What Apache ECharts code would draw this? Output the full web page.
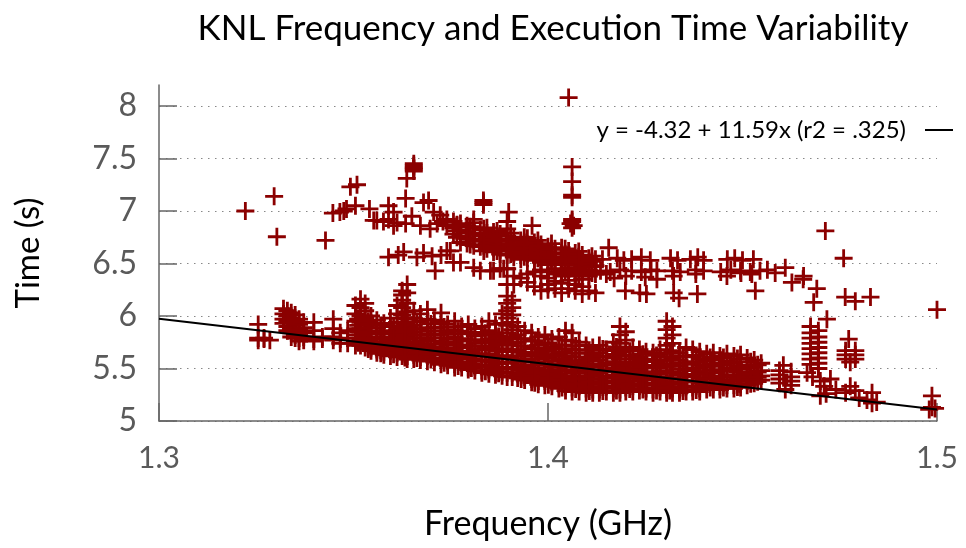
<!DOCTYPE html>
<html>
<head>
<meta charset="utf-8">
<script src="https://cdn.jsdelivr.net/npm/echarts@6/dist/echarts.min.js"></script>
<style>
html,body{margin:0;padding:0;background:#fff;}
#chart{width:966px;height:548px;}
</style>
</head>
<body>
<div id="chart"></div>
<script>
// ---------------- DATA ----------------
const titleText = 'KNL Frequency and Execution Time Variability';
const xName = 'Frequency (GHz)';
const yName = 'Time (s)';
const xTicks = [1.3, 1.4, 1.5];
const yTicks = [5, 5.5, 6, 6.5, 7, 7.5, 8];
const fitName = 'y = -4.32 + 11.59x (r2 = .325)';
const fitIntercept = 11.59;
const fitSlope = -4.32;

// dense lower band: [frequency, time, time, ...]
const lowerBandColumns = [
  [1.3255, 5.92, 5.79, 5.77],
  [1.3270, 5.78, 5.79],
  [1.3285, 5.77],
  [1.3320, 6.07, 6.02, 5.97, 5.93],
  [1.3330, 6.05, 6.00, 5.95, 5.90, 5.86],
  [1.3340, 6.03, 5.98, 5.93, 5.88, 5.84, 5.80],
  [1.3350, 6.01, 5.96, 5.91, 5.86, 5.82, 5.79],
  [1.3360, 5.97, 5.92, 5.87, 5.83, 5.79, 5.76],
  [1.3372, 5.94, 5.89, 5.84, 5.80, 5.77],
  [1.3398, 5.94, 5.86, 5.78, 5.76],
  [1.3420, 5.80, 5.78],
  [1.3448, 5.97, 5.88, 5.80, 5.77],
  [1.3466, 5.84, 5.78, 5.74],
  [1.3485, 5.86, 5.79, 5.74],
  [1.3505, 6.10, 6.02, 5.95, 5.88, 5.82, 5.76, 5.72],
  [1.3518, 6.16, 6.08, 6.00, 5.94, 5.88, 5.82, 5.77, 5.72],
  [1.3530, 6.12, 6.05, 5.98, 5.91, 5.85, 5.79, 5.74, 5.70],
  [1.3545, 6.00, 5.93, 5.86, 5.80, 5.75, 5.70, 5.67],
  [1.3560, 5.96, 5.89, 5.83, 5.78, 5.73, 5.68, 5.65],
  [1.3578, 5.93, 5.86, 5.80, 5.75, 5.70, 5.66, 5.63],
  [1.3595, 5.98, 5.90, 5.83, 5.77, 5.72, 5.67, 5.62],
  [1.3612, 6.10, 6.02, 5.94, 5.87, 5.81, 5.75, 5.70, 5.65, 5.61],
  [1.3625, 6.24, 6.20, 6.15, 6.08, 6.01, 5.94, 5.88, 5.82, 5.76, 5.71, 5.66, 5.62],
  [1.3638, 6.30, 6.22, 6.12, 6.04, 5.97, 5.90, 5.84, 5.78, 5.72, 5.67, 5.62, 5.59],
  [1.3655, 6.05, 5.98, 5.91, 5.85, 5.79, 5.73, 5.68, 5.63, 5.59],
  [1.3672, 6.02, 5.95, 5.88, 5.82, 5.76, 5.71, 5.66, 5.61, 5.58],
  [1.3690, 6.06, 5.97, 5.89, 5.83, 5.77, 5.72, 5.67, 5.62, 5.57],
  [1.3708, 5.96, 5.89, 5.82, 5.76, 5.70, 5.65, 5.60, 5.56],
  [1.3725, 6.03, 5.94, 5.86, 5.79, 5.73, 5.68, 5.63, 5.58, 5.54],
  [1.3742, 5.92, 5.85, 5.78, 5.72, 5.66, 5.61, 5.57, 5.53],
  [1.3760, 5.95, 5.87, 5.80, 5.74, 5.68, 5.63, 5.58, 5.54, 5.51],
  [1.3778, 5.90, 5.83, 5.76, 5.70, 5.65, 5.60, 5.55, 5.51],
  [1.3795, 5.92, 5.84, 5.77, 5.71, 5.65, 5.60, 5.55, 5.51, 5.49],
  [1.3812, 5.88, 5.81, 5.74, 5.68, 5.62, 5.57, 5.52, 5.48],
  [1.3830, 5.90, 5.82, 5.75, 5.68, 5.62, 5.57, 5.52, 5.48, 5.46],
  [1.3848, 5.95, 5.86, 5.78, 5.71, 5.64, 5.58, 5.53, 5.49, 5.45],
  [1.3865, 5.92, 5.83, 5.75, 5.68, 5.62, 5.56, 5.51, 5.47, 5.44],
  [1.3882, 6.02, 5.93, 5.84, 5.76, 5.69, 5.62, 5.56, 5.51, 5.47, 5.43],
  [1.3895, 6.19, 6.12, 6.05, 5.98, 5.91, 5.84, 5.78, 5.72, 5.66, 5.60, 5.55, 5.50, 5.46, 5.42],
  [1.3908, 6.15, 6.08, 6.01, 5.94, 5.87, 5.80, 5.74, 5.68, 5.62, 5.56, 5.51, 5.46, 5.42],
  [1.3922, 5.90, 5.82, 5.75, 5.68, 5.62, 5.56, 5.50, 5.45, 5.41],
  [1.3940, 5.86, 5.78, 5.71, 5.64, 5.58, 5.52, 5.47, 5.42, 5.39],
  [1.3958, 5.84, 5.76, 5.69, 5.62, 5.56, 5.50, 5.45, 5.40, 5.37],
  [1.3975, 5.80, 5.72, 5.65, 5.59, 5.53, 5.48, 5.43, 5.38, 5.35],
  [1.3992, 5.82, 5.74, 5.67, 5.60, 5.54, 5.48, 5.43, 5.38, 5.34],
  [1.4010, 5.78, 5.70, 5.63, 5.57, 5.51, 5.46, 5.41, 5.37, 5.33],
  [1.4028, 5.80, 5.72, 5.64, 5.57, 5.51, 5.45, 5.40, 5.35, 5.31],
  [1.4045, 5.86, 5.77, 5.69, 5.62, 5.55, 5.49, 5.43, 5.38, 5.33, 5.29],
  [1.4062, 5.84, 5.76, 5.68, 5.61, 5.54, 5.48, 5.42, 5.37, 5.32, 5.28],
  [1.4080, 5.75, 5.68, 5.61, 5.55, 5.49, 5.43, 5.38, 5.33, 5.28],
  [1.4098, 5.72, 5.65, 5.58, 5.52, 5.46, 5.41, 5.36, 5.31, 5.27],
  [1.4115, 5.70, 5.63, 5.57, 5.51, 5.45, 5.40, 5.35, 5.30, 5.27],
  [1.4132, 5.72, 5.65, 5.58, 5.52, 5.46, 5.40, 5.35, 5.30, 5.27],
  [1.4150, 5.68, 5.61, 5.55, 5.49, 5.43, 5.38, 5.33, 5.28],
  [1.4168, 5.75, 5.67, 5.60, 5.53, 5.47, 5.41, 5.36, 5.31, 5.27],
  [1.4185, 5.90, 5.82, 5.74, 5.66, 5.59, 5.52, 5.46, 5.40, 5.35, 5.30, 5.27],
  [1.4200, 5.85, 5.77, 5.69, 5.62, 5.55, 5.49, 5.43, 5.37, 5.32, 5.28],
  [1.4218, 5.70, 5.63, 5.56, 5.50, 5.44, 5.38, 5.33, 5.28],
  [1.4235, 5.68, 5.61, 5.55, 5.49, 5.43, 5.38, 5.33, 5.29],
  [1.4252, 5.66, 5.59, 5.53, 5.47, 5.41, 5.36, 5.31, 5.28],
  [1.4270, 5.65, 5.58, 5.52, 5.46, 5.40, 5.35, 5.30, 5.27],
  [1.4288, 5.68, 5.61, 5.54, 5.48, 5.42, 5.37, 5.32, 5.28],
  [1.4305, 5.95, 5.87, 5.79, 5.72, 5.65, 5.58, 5.52, 5.46, 5.40, 5.35, 5.30, 5.27],
  [1.4320, 5.90, 5.82, 5.74, 5.67, 5.60, 5.53, 5.47, 5.41, 5.36, 5.31, 5.27],
  [1.4338, 5.65, 5.58, 5.52, 5.46, 5.40, 5.35, 5.30, 5.27],
  [1.4355, 5.70, 5.62, 5.55, 5.49, 5.43, 5.38, 5.33, 5.28],
  [1.4372, 5.68, 5.61, 5.54, 5.48, 5.42, 5.37, 5.32, 5.28],
  [1.4390, 5.66, 5.59, 5.53, 5.47, 5.41, 5.36, 5.31, 5.28],
  [1.4408, 5.64, 5.57, 5.51, 5.45, 5.40, 5.35, 5.30],
  [1.4425, 5.65, 5.58, 5.52, 5.46, 5.40, 5.35, 5.30],
  [1.4442, 5.62, 5.55, 5.49, 5.43, 5.38, 5.33, 5.30],
  [1.4460, 5.64, 5.57, 5.50, 5.44, 5.39, 5.34, 5.31],
  [1.4478, 5.62, 5.55, 5.49, 5.43, 5.38, 5.34, 5.31],
  [1.4495, 5.63, 5.56, 5.50, 5.44, 5.39, 5.35, 5.32],
  [1.4512, 5.60, 5.53, 5.47, 5.42, 5.38, 5.34],
  [1.4530, 5.58, 5.51, 5.45, 5.40, 5.36],
  [1.4548, 5.55, 5.48, 5.43, 5.39]
];

// extra runs inside the solid core of the lower band: [frequency, time, ...]
const lowerCoreColumns = [
  [1.3512, 5.97, 5.91, 5.85, 5.79, 5.745],
  [1.3538, 5.95, 5.89, 5.83, 5.77, 5.72, 5.685],
  [1.3570, 5.91, 5.845, 5.78, 5.725, 5.675, 5.645],
  [1.3603, 5.905, 5.845, 5.79, 5.735, 5.685, 5.635],
  [1.3632, 5.985, 5.925, 5.865, 5.81, 5.745, 5.69, 5.64, 5.605],
  [1.3663, 5.945, 5.875, 5.815, 5.755, 5.70, 5.645, 5.60],
  [1.3699, 5.925, 5.855, 5.795, 5.735, 5.685, 5.635, 5.585],
  [1.3733, 5.895, 5.825, 5.755, 5.695, 5.645, 5.595, 5.555],
  [1.3769, 5.855, 5.785, 5.725, 5.665, 5.615, 5.565, 5.525],
  [1.3803, 5.845, 5.775, 5.715, 5.655, 5.595, 5.545, 5.505],
  [1.3839, 5.835, 5.765, 5.695, 5.635, 5.575, 5.525, 5.475],
  [1.3873, 5.805, 5.735, 5.665, 5.605, 5.545, 5.495, 5.455],
  [1.3931, 5.785, 5.715, 5.655, 5.595, 5.535, 5.485, 5.435, 5.40],
  [1.3966, 5.765, 5.695, 5.625, 5.565, 5.505, 5.455, 5.405, 5.365],
  [1.4001, 5.745, 5.675, 5.605, 5.545, 5.485, 5.435, 5.39, 5.345],
  [1.4036, 5.725, 5.655, 5.595, 5.535, 5.475, 5.415, 5.365, 5.32],
  [1.4071, 5.715, 5.645, 5.575, 5.515, 5.455, 5.405, 5.355, 5.305],
  [1.4106, 5.675, 5.605, 5.54, 5.48, 5.425, 5.375, 5.325, 5.285],
  [1.4141, 5.685, 5.615, 5.545, 5.485, 5.425, 5.375, 5.325, 5.285],
  [1.4176, 5.705, 5.635, 5.565, 5.50, 5.44, 5.385, 5.335, 5.29],
  [1.4210, 5.665, 5.595, 5.53, 5.47, 5.41, 5.355, 5.305],
  [1.4244, 5.635, 5.57, 5.51, 5.45, 5.395, 5.345, 5.30],
  [1.4279, 5.625, 5.565, 5.505, 5.445, 5.39, 5.34, 5.29],
  [1.4313, 5.645, 5.585, 5.525, 5.465, 5.405, 5.35, 5.29],
  [1.4347, 5.615, 5.555, 5.495, 5.435, 5.375, 5.32, 5.285],
  [1.4381, 5.625, 5.565, 5.505, 5.445, 5.385, 5.335, 5.295],
  [1.4417, 5.605, 5.545, 5.485, 5.425, 5.37, 5.32],
  [1.4451, 5.605, 5.535, 5.475, 5.415, 5.36, 5.32],
  [1.4487, 5.595, 5.525, 5.465, 5.405, 5.355, 5.325],
  [1.4521, 5.565, 5.505, 5.445, 5.395, 5.355],
  [1.4539, 5.535, 5.465, 5.415, 5.375]
];

// upper (slow) branch: [frequency, time, time, ...]
const upperBandColumns = [
  [1.3740, 6.92, 6.86, 6.62],
  [1.3757, 6.90, 6.84, 6.78, 6.51],
  [1.3775, 6.88, 6.82, 6.76, 6.70],
  [1.3792, 6.86, 6.80, 6.74, 6.69],
  [1.3809, 6.89, 6.84, 6.78, 6.72, 6.67, 6.46],
  [1.3826, 6.82, 6.76, 6.71, 6.66, 6.43],
  [1.3843, 6.84, 6.79, 6.74, 6.69, 6.64],
  [1.3860, 6.80, 6.75, 6.70, 6.65, 6.61, 6.43],
  [1.3877, 6.78, 6.73, 6.68, 6.63, 6.59, 6.45],
  [1.3895, 6.83, 6.76, 6.71, 6.66, 6.62, 6.58, 6.45, 6.30],
  [1.3912, 6.74, 6.69, 6.64, 6.60, 6.56, 6.38, 6.30],
  [1.3930, 6.72, 6.67, 6.62, 6.58, 6.54, 6.36],
  [1.3947, 6.74, 6.68, 6.63, 6.59, 6.55, 6.40, 6.32],
  [1.3965, 6.70, 6.65, 6.61, 6.57, 6.53, 6.42, 6.28],
  [1.3982, 6.68, 6.63, 6.59, 6.55, 6.51, 6.44, 6.38, 6.24],
  [1.4000, 6.66, 6.61, 6.57, 6.53, 6.49, 6.42, 6.36, 6.30, 6.25],
  [1.4018, 6.64, 6.60, 6.56, 6.52, 6.45, 6.40, 6.33, 6.26],
  [1.4035, 6.65, 6.60, 6.55, 6.50, 6.44, 6.38, 6.31, 6.22],
  [1.4053, 6.62, 6.57, 6.52, 6.46, 6.40, 6.34, 6.26],
  [1.4070, 6.60, 6.55, 6.50, 6.44, 6.38, 6.30, 6.24],
  [1.4088, 6.58, 6.53, 6.48, 6.42, 6.35, 6.28, 6.21],
  [1.4105, 6.55, 6.50, 6.44, 6.38, 6.24],
  [1.4122, 6.54, 6.48, 6.40, 6.22],
  [1.3766, 6.87, 6.81, 6.75],
  [1.3800, 6.85, 6.79, 6.73, 6.68],
  [1.3835, 6.83, 6.77, 6.72, 6.67, 6.62],
  [1.3869, 6.81, 6.76, 6.71, 6.66, 6.62],
  [1.3904, 6.79, 6.73, 6.685, 6.635, 6.59],
  [1.3939, 6.75, 6.70, 6.65, 6.605, 6.565],
  [1.3974, 6.72, 6.67, 6.63, 6.59, 6.55],
  [1.4009, 6.69, 6.635, 6.59, 6.55, 6.51],
  [1.4044, 6.64, 6.59, 6.545, 6.49, 6.42],
  [1.4079, 6.615, 6.565, 6.515, 6.46, 6.40],
  [1.4113, 6.57, 6.52, 6.47, 6.41]
];

// isolated points of the upper branch: [frequency, time]
const upperScatter = [
  [1.3222, 7.00], [1.3296, 7.14], [1.3303, 6.755], [1.3428, 6.72],
  [1.3447, 6.98], [1.3465, 6.99], [1.3475, 7.00], [1.3482, 7.02],
  [1.3492, 7.23], [1.3509, 7.25], [1.3505, 7.05], [1.3541, 7.02],
  [1.3552, 6.91], [1.3560, 6.91], [1.3577, 6.90], [1.3590, 7.05], [1.3590, 6.92],
  [1.3603, 6.99], [1.3603, 6.86], [1.3612, 6.89],
  [1.3634, 7.12], [1.3637, 7.31], [1.3634, 6.88],
  [1.3655, 7.45], [1.3655, 7.43], [1.3655, 7.41], [1.3655, 7.40], [1.3655, 7.38],
  [1.3650, 6.95], [1.3672, 6.86], [1.3680, 7.08], [1.3693, 7.10], [1.3697, 6.83],
  [1.3706, 6.99], [1.3723, 6.96], [1.3715, 6.88], [1.3730, 6.90],
  [1.3766, 6.86], [1.3809, 6.92],
  [1.3834, 7.10], [1.3834, 7.08], [1.3834, 7.06],
  [1.3899, 6.99], [1.3895, 6.90], [1.3959, 6.86],
  [1.4053, 8.08],
  [1.4062, 7.42], [1.4062, 7.28], [1.4062, 7.15], [1.4062, 7.13], [1.4062, 6.92],
  [1.4062, 6.90], [1.4058, 6.88], [1.4066, 6.86], [1.4062, 6.84],
  [1.4156, 6.65],
  [1.3590, 6.56], [1.3615, 6.58], [1.3629, 6.61], [1.3663, 6.56], [1.3680, 6.60],
  [1.3702, 6.57], [1.3710, 6.43], [1.3725, 6.58], [1.3749, 6.62], [1.3775, 6.51],
  [1.3852, 6.43], [1.3886, 6.45]
];

// right part of the upper branch (t around 6.1 - 6.8)
const upperTail = [
  [1.4140, 6.54], [1.4178, 6.55], [1.4195, 6.53], [1.4215, 6.54], [1.4240, 6.56],
  [1.4263, 6.53], [1.4315, 6.55], [1.4333, 6.53], [1.4366, 6.54], [1.4385, 6.56],
  [1.4400, 6.53], [1.4461, 6.54], [1.4480, 6.55], [1.4500, 6.53], [1.4528, 6.54],
  [1.4135, 6.43], [1.4160, 6.42], [1.4185, 6.44], [1.4215, 6.43], [1.4240, 6.42],
  [1.4265, 6.44], [1.4280, 6.43], [1.4320, 6.43], [1.4340, 6.42], [1.4380, 6.44],
  [1.4400, 6.43], [1.4444, 6.42], [1.4470, 6.44], [1.4495, 6.43], [1.4520, 6.42],
  [1.4545, 6.43], [1.4564, 6.44],
  [1.4199, 6.24], [1.4236, 6.22], [1.4253, 6.21], [1.4323, 6.22], [1.4337, 6.17],
  [1.4384, 6.21], [1.4533, 6.24],
  [1.4323, 6.38], [1.4380, 6.40], [1.4460, 6.38], [1.4496, 6.41], [1.4524, 6.40],
  [1.4584, 6.41], [1.4150, 6.40], [1.4170, 6.36], [1.4200, 6.38], [1.4250, 6.37],
  [1.4280, 6.35],
  [1.4627, 6.32], [1.4656, 6.35], [1.4657, 6.38], [1.4610, 6.46],
  [1.4691, 6.26], [1.4683, 6.13], [1.4717, 5.97], [1.4764, 6.18], [1.4790, 6.14],
  [1.4829, 6.18], [1.5000, 6.06], [1.4713, 6.81], [1.4760, 6.55]
];

// right part of the lower band (t around 5.1 - 5.9)
const lowerTail = [
  [1.4595, 5.48], [1.4595, 5.44], [1.4595, 5.40], [1.4595, 5.36],
  [1.4625, 5.47], [1.4625, 5.42], [1.4625, 5.38], [1.4625, 5.34],
  [1.4605, 5.53], [1.4610, 5.30], [1.4666, 5.46],
  [1.4675, 5.90], [1.4675, 5.84], [1.4675, 5.79], [1.4675, 5.74], [1.4675, 5.69],
  [1.4675, 5.64], [1.4675, 5.59], [1.4675, 5.54],
  [1.4695, 5.86], [1.4695, 5.80], [1.4695, 5.75], [1.4695, 5.70], [1.4695, 5.65],
  [1.4695, 5.60], [1.4695, 5.55], [1.4695, 5.50],
  [1.4680, 5.42], [1.4700, 5.38], [1.4710, 5.33], [1.4700, 5.24], [1.4726, 5.40],
  [1.4740, 5.30], [1.4715, 5.26],
  [1.4773, 5.78], [1.4765, 5.67], [1.4765, 5.63], [1.4765, 5.59], [1.4790, 5.67],
  [1.4790, 5.63], [1.4790, 5.59], [1.4777, 5.56],
  [1.4777, 5.33], [1.4790, 5.29], [1.4765, 5.27], [1.4800, 5.22],
  [1.4833, 5.27], [1.4833, 5.17], [1.4820, 5.20], [1.4845, 5.18],
  [1.4987, 5.24], [1.4987, 5.13], [1.4995, 5.12], [1.4980, 5.11]
];

// ---------------- build ----------------
function fromColumns(cols) {
  const out = [];
  cols.forEach(c => { for (let i = 1; i < c.length; i++) out.push([c[0], c[i]]); });
  return out;
}
const scatterData = [].concat(
  fromColumns(lowerBandColumns),
  fromColumns(lowerCoreColumns),
  fromColumns(upperBandColumns),
  upperScatter, upperTail, lowerTail
);
const fitData = [xTicks[0], xTicks[xTicks.length - 1]].map(x => [x, fitIntercept + fitSlope * x]);

const FONT = 'Lato';
const plusPath = 'path://M7.6,0h2.8v7.6h7.6v2.8h-7.6v7.6h-2.8v-7.6h-7.6v-2.8h7.6z';

const chart = echarts.init(document.getElementById('chart'), null, { renderer: 'canvas' });
chart.setOption({
  animation: false,
  backgroundColor: '#ffffff',
  textStyle: { fontFamily: FONT },
  title: {
    text: titleText,
    left: 548,
    textAlign: 'center',
    top: 6,
    textStyle: { fontFamily: FONT, fontSize: 35, fontWeight: 'normal', color: '#000' }
  },
  legend: {
    data: [{ name: fitName, icon: 'rect' }],
    right: 8,
    top: 113,
    align: 'right',
    itemWidth: 28,
    itemHeight: 2,
    itemStyle: { color: '#000' },
    textStyle: { fontFamily: FONT, fontSize: 24, color: '#000', padding: [0, 14, 0, 0] }
  },
  grid: { left: 159, right: 29, top: 85, bottom: 127, containLabel: false },
  xAxis: {
    type: 'value',
    min: xTicks[0],
    max: xTicks[xTicks.length - 1],
    interval: 0.1,
    name: xName,
    nameLocation: 'middle',
    nameGap: 86,
    nameTextStyle: { fontFamily: FONT, fontSize: 34, color: '#000' },
    axisLine: { show: true, lineStyle: { color: '#666', width: 1.5 } },
    axisTick: { show: true, inside: true, length: 18, lineStyle: { color: '#666', width: 1.5 } },
    axisLabel: { fontFamily: FONT, fontSize: 30, color: '#5a5a5a', margin: 22,
      formatter: v => v.toFixed(1) },
    splitLine: { show: false }
  },
  yAxis: {
    type: 'value',
    min: 5,
    max: 8.2,
    name: yName,
    nameLocation: 'middle',
    nameRotate: 90,
    nameGap: 114,
    nameTextStyle: { fontFamily: FONT, fontSize: 33, color: '#000' },
    axisLine: { show: true, lineStyle: { color: '#666', width: 1.5 } },
    axisTick: { show: true, inside: true, length: 18, customValues: yTicks, lineStyle: { color: '#666', width: 1.5 } },
    axisLabel: { fontFamily: FONT, fontSize: 32, color: '#5a5a5a', margin: 22, customValues: yTicks,
      formatter: v => String(v) },
    splitLine: { show: true, lineStyle: { color: '#888', width: 1, type: [1.5, 5.5] } }
  },
  series: [
    {
      type: 'scatter',
      name: 'data',
      data: scatterData,
      symbol: plusPath,
      symbolSize: 18,
      large: false,
      itemStyle: { color: '#8b0000', opacity: 1 },
      emphasis: { disabled: true },
      z: 2
    },
    {
      type: 'line',
      name: fitName,
      data: fitData,
      symbol: 'none',
      lineStyle: { color: '#000', width: 2 },
      itemStyle: { color: '#000' },
      z: 3
    }
  ]
});
</script>
</body>
</html>
